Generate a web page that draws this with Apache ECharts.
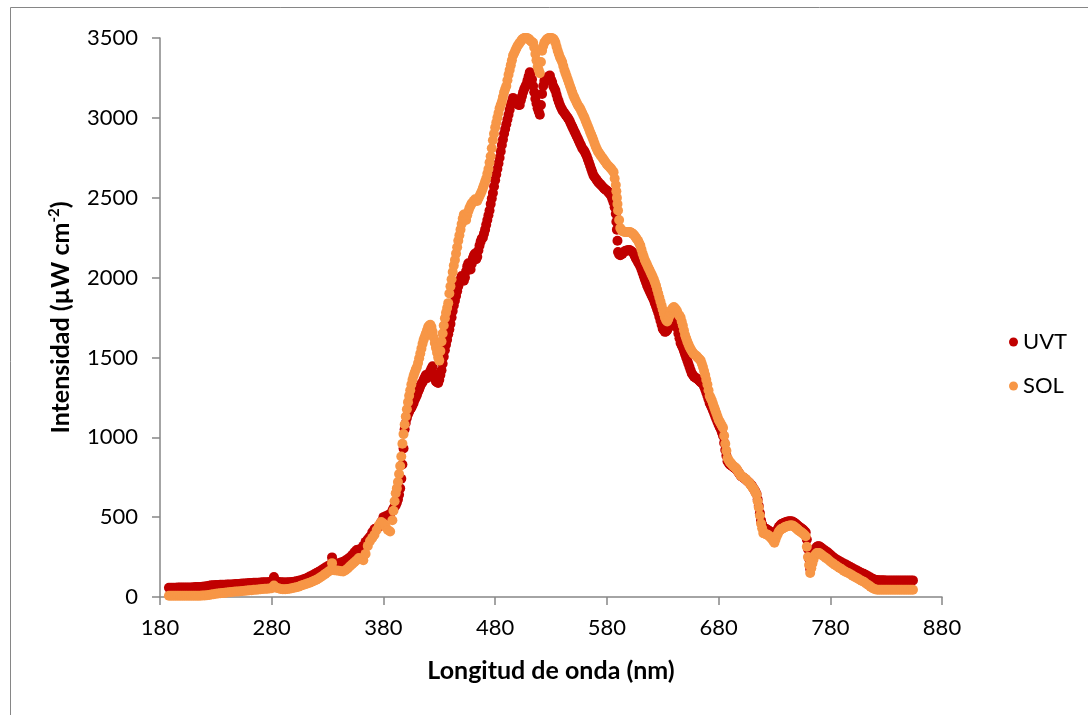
<!DOCTYPE html>
<html>
<head>
<meta charset="utf-8">
<script src="https://cdn.jsdelivr.net/npm/echarts@6/dist/echarts.min.js"></script>
<style>
html,body{margin:0;padding:0;background:#fff;}
#chart{width:1088px;height:715px;}
</style>
</head>
<body>
<div id="chart"></div>
<script>
// Wavelength (nm)
const wavelengths = [
188,190,192,194,196,198,200,202,204,206,
208,210,212,214,216,218,220,222,224,226,
228,230,232,234,236,238,240,242,244,246,
248,250,252,254,256,258,260,262,264,266,
268,270,272,274,276,278,280,282,284,286,
288,290,292,294,296,298,300,302,304,306,
308,310,312,314,316,318,320,322,324,326,
328,330,332,334,336,338,340,342,344,346,
348,350,352,354,356,358,360,362,364,366,
368,370,372,374,376,378,380,382,384,386,
388,
389,390,391,392,393,394,395,396,397,398,
399,400,401,402,403,404,405,406,407,408,
409,410,411,412,413,414,415,416,417,418,
419,420,421,422,423,424,425,426,427,428,
429,430,431,432,433,434,435,436,437,438,
439,440,441,442,443,444,445,446,447,448,
449,450,451,452,453,454,455,456,457,458,
459,460,461,462,463,464,465,466,467,468,
469,470,471,472,473,474,475,476,477,478,
479,480,481,482,483,484,485,486,487,488,
489,490,491,492,493,494,495,496,497,498,
499,500,501,502,503,504,505,506,507,508,
509,510,511,512,513,514,515,516,517,518,
519,520,521,522,523,524,525,526,527,528,
529,530,531,532,533,534,535,536,537,538,
539,540,541,542,543,544,545,546,547,548,
549,550,551,552,553,554,555,556,557,558,
559,560,561,562,563,564,565,566,567,568,
569,570,571,572,573,574,575,576,577,578,
579,580,581,582,583,584,585,586,587,588,
588.5,589,589.5,590,591,592,593,594,595,596,
597,598,599,600,
601,602,603,604,605,606,607,608,609,610,
611,612,613,614,615,616,617,618,619,620,
621,622,623,624,625,626,627,628,629,630,
631,632,633,634,635,636,637,638,639,640,
641,642,643,644,645,646,647,648,649,650,
651,652,653,654,655,656,657,658,659,660,
661,662,663,664,665,666,667,668,669,670,
671,672,673,674,675,676,677,678,679,680,
681,682,683,684,685,686,687,688,689,690,
691,692,693,694,695,696,697,698,699,700,
701,702,703,704,705,706,707,708,709,710,
711,712,713,714,715,716,717,718,719,720,
721,722,723,724,725,726,727,728,729,730,
731,732,733,734,735,736,737,738,739,740,
741,742,743,744,745,746,747,748,749,750,
751,752,753,754,755,756,757,758,759,760,
761,762,763,764,765,766,767,768,769,770,
771,772,
774,776,778,780,782,784,786,788,790,792,
794,796,798,800,802,804,806,808,810,812,
814,816,818,820,822,824,826,828,830,832,
834,836,838,840,842,844,846,848,850,852,
854
];

// UVT intensity (µW cm-2)
const uvt = [
58,58,58,58,59,59,59,60,60,60,
60,61,62,62,63,64,66,68,71,73,
74,75,75,76,76,77,78,78,79,80,
81,82,83,84,85,86,88,88,89,90,
90,91,92,92,93,94,96,125,100,94,
92,92,91,92,93,94,96,98,101,105,
110,115,121,128,135,142,150,158,166,175,
185,192,200,248,205,208,212,216,220,228,
238,248,262,280,294,298,302,320,345,362,
378,405,425,432,440,470,500,505,512,520,
540,
555,565,575,590,610,640,680,740,830,930,
1050,1090,1120,1145,1160,1175,1185,1200,1215,1235,
1250,1265,1285,1300,1320,1335,1345,1360,1375,1390,
1370,1385,1400,1415,1430,1445,1400,1375,1350,1345,
1340,1360,1390,1420,1460,1505,1545,1580,1610,1645,
1675,1710,1750,1790,1825,1855,1885,1915,1945,1970,
1990,2010,1990,1980,2000,2040,2070,2090,2060,2050,
2085,2120,2140,2150,2115,2130,2170,2200,2225,2245,
2250,2275,2300,2330,2360,2390,2420,2460,2495,2530,
2570,2610,2645,2680,2715,2750,2790,2830,2865,2900,
2930,2960,2990,3020,3050,3080,3100,3125,3115,3105,
3095,3090,3080,3080,3110,3135,3160,3180,3195,3210,
3235,3260,3285,3280,3240,3200,3160,3120,3090,3060,
3040,3020,3080,3150,3200,3230,3240,3250,3255,3260,
3265,3240,3225,3200,3185,3170,3145,3120,3100,3080,
3065,3050,3040,3030,3020,3010,3000,2990,2975,2960,
2945,2930,2915,2900,2885,2870,2855,2840,2825,2810,
2800,2790,2775,2760,2740,2720,2700,2680,2660,2640,
2630,2620,2610,2600,2592,2585,2578,2570,2562,2555,
2550,2545,2538,2530,2520,2510,2490,2470,2440,2400,
2350,2300,2230,2160,2145,2140,2145,2150,2158,2165,
2168,2170,2171,2172,
2170,2165,2158,2150,2135,2120,2108,2095,2083,2070,
2050,2030,2010,1990,1970,1950,1935,1920,1905,1890,
1875,1860,1840,1820,1800,1780,1755,1730,1705,1680,
1670,1660,1662,1670,1685,1700,1720,1740,1748,1752,
1740,1720,1685,1650,1620,1590,1575,1560,1540,1520,
1500,1480,1460,1440,1420,1400,1390,1380,1375,1370,
1365,1360,1352,1345,1340,1335,1318,1300,1280,1260,
1238,1215,1200,1185,1168,1150,1132,1115,1098,1080,
1065,1050,1030,1010,965,920,885,850,840,830,
825,820,815,810,805,800,789,778,768,758,
753,748,743,738,731,725,718,712,703,695,
683,672,658,645,610,570,525,480,455,432,
430,428,424,420,415,410,402,395,388,380,
395,410,425,440,448,455,458,462,465,468,
470,472,473,474,473,472,468,465,458,452,
446,440,435,430,425,420,412,405,360,300,
240,175,205,240,268,295,305,315,317,318,
313,308,
298,288,278,266,254,243,234,225,218,210,
203,196,188,180,172,166,158,150,145,138,
130,122,115,108,106,105,105,105,104,104,
104,104,104,104,104,104,104,104,104,104,
104
];

// SOL intensity (µW cm-2)
const sol = [
8,8,8,8,8,8,8,8,8,8,
8,8,8,8,8,9,10,11,13,16,
18,20,22,24,25,26,28,30,31,33,
34,35,36,38,39,40,42,43,45,46,
47,48,50,51,52,54,55,72,58,55,
50,48,48,50,52,55,58,61,64,70,
75,80,85,90,96,102,108,116,125,135,
145,155,165,212,168,166,165,162,160,168,
178,192,205,218,230,244,240,230,270,320,
350,370,390,420,450,470,460,440,420,410,
480,
540,600,650,680,720,770,820,880,960,1020,
1080,1130,1175,1220,1260,1295,1330,1360,1385,1405,
1425,1440,1465,1495,1525,1555,1585,1610,1630,1650,
1670,1690,1700,1705,1690,1660,1625,1590,1560,1530,
1500,1480,1540,1600,1650,1700,1745,1780,1810,1840,
1900,1945,1990,2035,2075,2110,2150,2190,2230,2265,
2300,2335,2370,2395,2380,2360,2390,2415,2435,2450,
2465,2470,2480,2490,2485,2480,2495,2510,2525,2540,
2560,2580,2600,2620,2650,2680,2720,2760,2810,2860,
2900,2940,2970,3000,3030,3060,3080,3100,3130,3160,
3180,3200,3235,3270,3300,3330,3360,3390,3405,3420,
3435,3450,3460,3470,3480,3490,3495,3500,3500,3500,
3498,3495,3488,3480,3475,3470,3440,3400,3360,3320,
3300,3280,3350,3420,3450,3470,3480,3490,3495,3500,
3500,3500,3498,3495,3485,3470,3445,3420,3400,3380,
3365,3350,3325,3300,3280,3260,3240,3220,3200,3180,
3160,3140,3125,3110,3095,3080,3070,3060,3045,3030,
3015,3000,2982,2965,2948,2930,2912,2895,2878,2860,
2840,2820,2805,2790,2780,2770,2760,2750,2740,2730,
2720,2710,2702,2695,2688,2680,2670,2660,2620,2580,
2540,2500,2460,2420,2360,2310,2298,2290,2288,2285,
2285,2285,2285,2285,
2283,2280,2275,2270,2260,2250,2240,2230,2215,2200,
2175,2150,2130,2110,2095,2080,2065,2050,2035,2020,
2005,1990,1970,1950,1925,1900,1875,1850,1825,1800,
1775,1750,1735,1725,1740,1760,1780,1800,1810,1815,
1808,1800,1785,1770,1760,1750,1725,1700,1670,1640,
1620,1600,1582,1565,1552,1540,1530,1520,1515,1510,
1502,1495,1488,1480,1460,1440,1415,1390,1360,1330,
1295,1260,1245,1230,1210,1190,1170,1150,1130,1110,
1098,1085,1072,1060,1010,960,915,870,858,845,
838,830,822,815,810,805,792,780,770,760,
755,750,745,740,732,725,718,710,700,690,
680,670,655,640,600,560,510,460,430,400,
398,395,392,390,384,378,370,362,351,340,
360,380,395,410,418,425,428,432,436,440,
442,445,446,448,448,448,444,440,434,428,
422,415,410,405,400,395,388,380,315,250,
200,150,180,210,235,260,268,275,275,275,
270,265,
255,245,235,222,212,202,192,183,175,165,
157,150,142,134,126,118,110,102,95,85,
75,65,55,48,45,45,45,45,45,45,
45,45,45,45,45,45,45,45,45,45,
45
];

const seriesNames = ['UVT', 'SOL'];
const xTitle = 'Longitud de onda (nm)';
const yTitle = 'Intensidad (µW cm{sup|-2})';

const FONT = 'Lato, "Open Sans", sans-serif';
const AXIS_COLOR = '#868686';

const chart = echarts.init(document.getElementById('chart'), null, {renderer: 'canvas'});

function pairs(xs, ys) { return xs.map((x, i) => [x, ys[i]]); }

chart.setOption({
  animation: false,
  backgroundColor: '#ffffff',
  graphic: [{
    type: 'rect', left: 8, top: 5, z: -1, silent: true,
    shape: {width: 1100, height: 730},
    style: {fill: 'none', stroke: AXIS_COLOR, lineWidth: 1}
  }],
  grid: {left: 160, right: 146, top: 38, bottom: 118, containLabel: false},
  legend: {
    orient: 'vertical', left: 1004, top: 326,
    icon: 'circle', itemWidth: 9, itemHeight: 9, itemGap: 22,
    textStyle: {fontFamily: FONT, fontSize: 22, color: '#000'},
    data: seriesNames
  },
  xAxis: {
    type: 'value', min: 180, max: 880, interval: 100,
    name: xTitle, nameLocation: 'middle', nameGap: 61,
    nameTextStyle: {fontFamily: FONT, fontSize: 25, fontWeight: 'bold', color: '#000'},
    axisLine: {show: true, lineStyle: {color: AXIS_COLOR, width: 1.5}},
    axisTick: {show: true, length: 8, lineStyle: {color: AXIS_COLOR, width: 1.5}},
    splitLine: {show: false},
    axisLabel: {fontFamily: FONT, fontSize: 22, color: '#000', margin: 20,
      formatter: v => String(v)}
  },
  yAxis: {
    type: 'value', min: 0, max: 3500, interval: 500,
    name: yTitle, nameLocation: 'middle', nameGap: 86, nameRotate: 90,
    nameTextStyle: {fontFamily: FONT, fontSize: 25, fontWeight: 'bold', color: '#000',
      rich: {sup: {fontFamily: FONT, fontSize: 15, fontWeight: 'bold', color: '#000', padding: [0, 0, 12, 0]}}},
    axisLine: {show: true, lineStyle: {color: AXIS_COLOR, width: 1.5}},
    axisTick: {show: true, length: 8, lineStyle: {color: AXIS_COLOR, width: 1.5}},
    splitLine: {show: false},
    axisLabel: {fontFamily: FONT, fontSize: 22, color: '#000', margin: 22,
      formatter: v => String(v)}
  },
  series: [
    {name: seriesNames[0], type: 'scatter', symbol: 'circle', symbolSize: 10,
     itemStyle: {color: '#C00000', opacity: 1}, data: pairs(wavelengths, uvt)},
    {name: seriesNames[1], type: 'scatter', symbol: 'circle', symbolSize: 10,
     itemStyle: {color: '#F79646', opacity: 1}, data: pairs(wavelengths, sol)}
  ]
});
</script>
</body>
</html>
